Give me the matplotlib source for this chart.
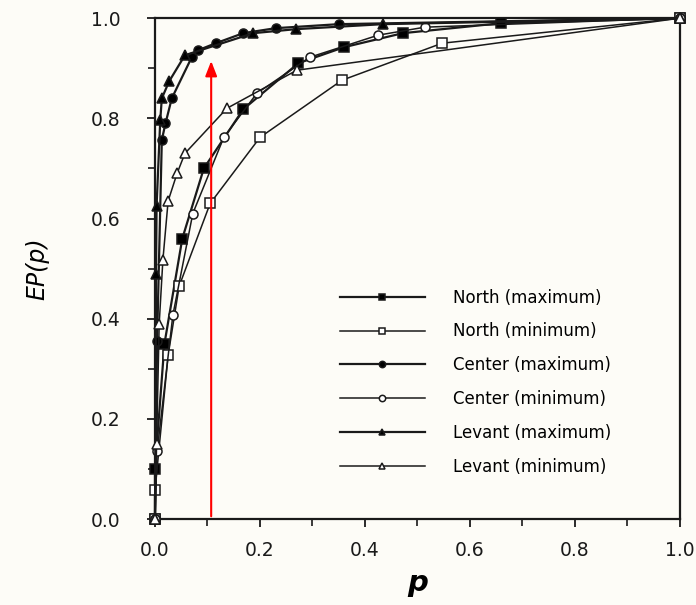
import matplotlib
matplotlib.use("Agg")
import matplotlib.pyplot as plt

# values
north_max_p = [0.0, 0.0, 0.018, 0.052, 0.093, 0.168, 0.273, 0.36, 0.472, 0.66, 1.0]
north_max_ep = [0.0, 0.10, 0.35, 0.56, 0.70, 0.818, 0.91, 0.942, 0.97, 0.99, 1.0]

north_min_p = [0.0, 0.0, 0.025, 0.046, 0.105, 0.20, 0.356, 0.547, 1.0]
north_min_ep = [0.0, 0.058, 0.327, 0.465, 0.63, 0.762, 0.876, 0.95, 1.0]

center_max_p = [0.0, 0.004, 0.013, 0.02, 0.032, 0.07, 0.082, 0.116, 0.168, 0.23, 0.35, 1.0]
center_max_ep = [0.0, 0.355, 0.757, 0.79, 0.84, 0.922, 0.936, 0.95, 0.97, 0.98, 0.988, 1.0]

center_min_p = [0.0, 0.004, 0.034, 0.072, 0.131, 0.194, 0.295, 0.425, 0.514, 1.0]
center_min_ep = [0.0, 0.135, 0.407, 0.61, 0.762, 0.85, 0.922, 0.966, 0.982, 1.0]

levant_max_p = [0.0, 0.002, 0.003, 0.01, 0.013, 0.027, 0.057, 0.187, 0.268, 0.434, 1.0]
levant_max_ep = [0.0, 0.49, 0.625, 0.796, 0.84, 0.874, 0.926, 0.97, 0.978, 0.988, 1.0]

levant_min_p = [0.0, 0.003, 0.008, 0.015, 0.025, 0.042, 0.057, 0.137, 0.27, 1.0]
levant_min_ep = [0.0, 0.15, 0.39, 0.517, 0.635, 0.69, 0.73, 0.82, 0.896, 1.0]

labels = ["North (maximum)", "North (minimum)", "Center (maximum)",
          "Center (minimum)", "Levant (maximum)", "Levant (minimum)"]
arrow_p = 0.107
arrow_top = 0.92

paper = "#fdfcf7"
plt.rcParams["font.family"] = ["DejaVu Sans"]

fig = plt.figure(figsize=(6.96, 6.05), dpi=100, facecolor=paper)
ax = fig.add_axes([0.2227, 0.142, 0.7543, 0.828], facecolor=paper)

series = [
    (north_max_p, north_max_ep, "s", "black", 1.6),
    (north_min_p, north_min_ep, "s", "white", 1.1),
    (center_max_p, center_max_ep, "o", "black", 1.6),
    (center_min_p, center_min_ep, "o", "white", 1.1),
    (levant_max_p, levant_max_ep, "^", "black", 1.6),
    (levant_min_p, levant_min_ep, "^", "white", 1.1),
]
for (xs, ys, mk, fc, lw), lab in zip(series, labels):
    ax.plot(xs, ys, color="#1a1a1a", lw=lw, marker=mk, markersize=6.5,
            markerfacecolor=fc, markeredgecolor="#1a1a1a", markeredgewidth=1.1,
            label=lab, clip_on=False, zorder=3)

ax.annotate("", xy=(arrow_p, arrow_top), xytext=(arrow_p, 0.0),
            arrowprops=dict(arrowstyle="-|>,head_width=0.35,head_length=0.9",
                            color="red", lw=1.5), zorder=4)

ax.set_xlim(0, 1)
ax.set_ylim(0, 1)
ax.set_xticks([0, 0.2, 0.4, 0.6, 0.8, 1.0])
ax.set_yticks([0, 0.2, 0.4, 0.6, 0.8, 1.0])
ax.set_xticks([0.1, 0.3, 0.5, 0.7, 0.9], minor=True)
ax.set_yticks([0.1, 0.3, 0.5, 0.7, 0.9], minor=True)
ax.set_xticklabels(["0.0", "0.2", "0.4", "0.6", "0.8", "1.0"])
ax.set_yticklabels(["0.0", "0.2", "0.4", "0.6", "0.8", "1.0"])
ax.tick_params(which="major", direction="out", length=6, width=1.3,
               labelsize=13.5, colors="#1a1a1a")
ax.tick_params(axis="x", which="major", pad=10)
ax.tick_params(axis="y", which="major", pad=19)
ax.tick_params(which="minor", direction="out", length=5, width=1.2, colors="#1a1a1a")
for s in ax.spines.values():
    s.set_linewidth(1.6)
    s.set_color("#1a1a1a")

ax.set_xlabel("p", fontsize=21, style="italic", fontweight="bold", labelpad=6)
ax.set_ylabel("EP(p)", fontsize=17, style="italic", labelpad=30)

ax.legend(loc="upper left", bbox_to_anchor=(0.352, 0.46), frameon=False,
          fontsize=12, handlelength=5.1, handletextpad=1.7, labelspacing=0.95,
          markerscale=0.7, borderpad=0, borderaxespad=0)

fig.savefig("out.png", dpi=100, facecolor=paper)
